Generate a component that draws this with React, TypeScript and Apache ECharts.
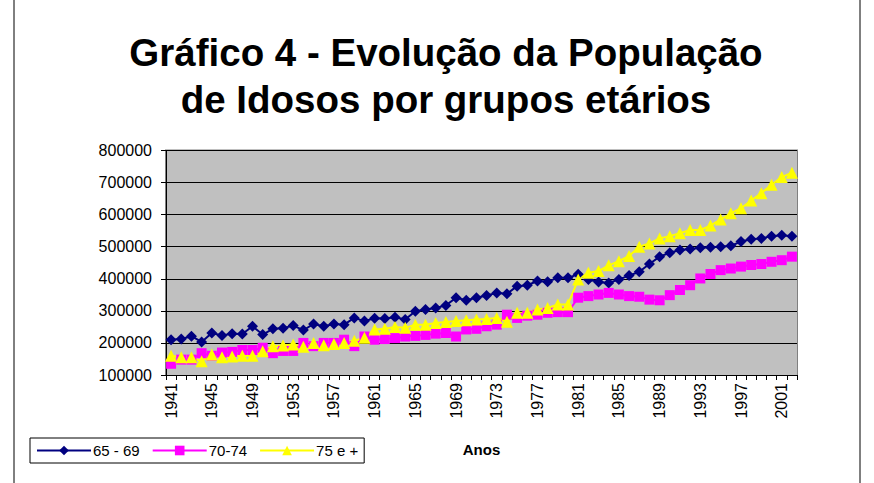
import React, { useEffect, useRef } from "react";
import * as echarts from "echarts";

const years: string[] = [];
for (let y = 1941; y <= 2002; y++) years.push(String(y));

const s6569 = [
  210000, 212000, 221000, 203000, 231000, 223000, 229000, 228000, 252000, 226000,
  244000, 246000, 254000, 240000, 259000, 252000, 259000, 257000, 278000, 268000,
  277000, 276000, 280000, 273000, 299000, 304000, 309000, 317000, 341000, 333000,
  341000, 348000, 356000, 353000, 377000, 380000, 393000, 391000, 403000, 403000,
  414000, 398000, 390000, 387000, 398000, 410000, 422000, 446000, 469000, 481000,
  490000, 493000, 497000, 498000, 500000, 503000, 516000, 523000, 526000, 533000,
  536000, 533000,
];

const s7074 = [
  135000, 148000, 148000, 168000, 160000, 170000, 172000, 178000, 178000, 185000,
  168000, 175000, 175000, 200000, 190000, 200000, 200000, 210000, 190000, 220000,
  210000, 212000, 215000, 220000, 222000, 225000, 229000, 231000, 220000, 242000,
  244000, 252000, 257000, 288000, 278000, 285000, 288000, 294000, 296000, 296000,
  341000, 346000, 351000, 356000, 351000, 346000, 344000, 335000, 333000, 349000,
  365000, 380000, 401000, 415000, 427000, 432000, 438000, 443000, 446000, 453000,
  458000, 469000,
];

const s75 = [
  160000, 155000, 155000, 143000, 164000, 155000, 158000, 160000, 160000, 174000,
  190000, 192000, 195000, 188000, 200000, 193000, 197000, 200000, 207000, 216000,
  242000, 244000, 250000, 247000, 257000, 257000, 262000, 265000, 268000, 271000,
  273000, 275000, 278000, 266000, 294000, 294000, 304000, 309000, 320000, 320000,
  398000, 419000, 424000, 442000, 455000, 471000, 500000, 510000, 526000, 533000,
  542000, 552000, 552000, 566000, 585000, 604000, 620000, 644000, 667000, 693000,
  717000, 731000,
];

const seriesNames = ["65 - 69", "70-74", "75 e +"];
const titleLines = ["Gráfico 4 - Evolução da População", "de Idosos por grupos etários"];
const FONT = "'Liberation Sans', Arial, sans-serif";

export default function App() {
  const ref = useRef<HTMLDivElement>(null);
  useEffect(() => {
    if (!ref.current) return;
    const chart = echarts.init(ref.current, undefined, { renderer: "svg" });
    chart.setOption({
      animation: false,
      backgroundColor: "#ffffff",
      textStyle: { fontFamily: FONT },
      graphic: [
        {
          type: "rect",
          shape: { x: 14, y: -5, width: 846, height: 495 },
          style: { fill: "none", stroke: "#000", lineWidth: 1 },
          silent: true,
          z: -10,
        },
        {
          type: "rect",
          shape: { x: 166, y: 150.5, width: 631, height: 224.5 },
          style: { fill: "none", stroke: "#808080", lineWidth: 2 },
          silent: true,
          z: -1,
        },
        {
          type: "text",
          x: 446,
          y: 52,
          style: {
            text: titleLines[0],
            fontFamily: FONT,
            fontSize: 38.5,
            fontWeight: "bold",
            fill: "#000",
            align: "center",
            verticalAlign: "middle",
          },
        },
        {
          type: "text",
          x: 446,
          y: 99,
          style: {
            text: titleLines[1],
            fontFamily: FONT,
            fontSize: 38.5,
            fontWeight: "bold",
            fill: "#000",
            align: "center",
            verticalAlign: "middle",
          },
        },
      ],
      legend: {
        left: 30,
        top: 438,
        orient: "horizontal",
        data: seriesNames,
        itemWidth: 54,
        itemHeight: 12,
        itemGap: 12,
        padding: [5, 6, 5, 6],
        borderColor: "#000",
        borderWidth: 1,
        textStyle: { fontFamily: FONT, fontSize: 15, color: "#000", padding: [0, 0, 0, -3] },
      },
      grid: {
        left: 166,
        right: 77,
        top: 150.5,
        bottom: 108,
        show: true,
        backgroundColor: "#C0C0C0",
        borderWidth: 0,
      },
      xAxis: {
        type: "category",
        data: years,
        boundaryGap: true,
        name: "Anos",
        nameLocation: "middle",
        nameGap: 67,
        nameTextStyle: { fontFamily: FONT, fontSize: 15, fontWeight: "bold", color: "#000" },
        axisLine: { show: true, lineStyle: { color: "#000", width: 1 } },
        axisTick: { show: true, interval: 0, length: 5, lineStyle: { color: "#000" } },
        axisLabel: {
          interval: 3,
          rotate: 90,
          fontFamily: FONT,
          fontSize: 16,
          color: "#000",
          margin: 8,
        },
        splitLine: { show: false },
      },
      yAxis: {
        type: "value",
        min: 100000,
        max: 800000,
        interval: 100000,
        axisLine: { show: true, lineStyle: { color: "#000", width: 1 } },
        axisTick: { show: true, length: 5, lineStyle: { color: "#000" } },
        axisLabel: {
          fontFamily: FONT,
          fontSize: 16,
          color: "#000",
          margin: 14,
          formatter: (v: number) => String(v),
        },
        splitLine: { show: true, lineStyle: { color: "#000", width: 1 } },
      },
      series: [
        {
          name: seriesNames[0],
          type: "line",
          data: s6569,
          symbol: "diamond",
          symbolSize: 11,
          showAllSymbol: true,
          lineStyle: { color: "#000080", width: 2 },
          itemStyle: { color: "#000080" },
        },
        {
          name: seriesNames[1],
          type: "line",
          data: s7074,
          symbol: "rect",
          symbolSize: 10,
          showAllSymbol: true,
          lineStyle: { color: "#FF00FF", width: 2 },
          itemStyle: { color: "#FF00FF" },
        },
        {
          name: seriesNames[2],
          type: "line",
          data: s75,
          symbol: "triangle",
          symbolSize: 12,
          showAllSymbol: true,
          lineStyle: { color: "#FFFF00", width: 2 },
          itemStyle: { color: "#FFFF00" },
        },
      ],
    });
    return () => chart.dispose();
  }, []);
  return <div ref={ref} style={{ width: 874, height: 483, position: "absolute", left: 0, top: 0 }} />;
}
